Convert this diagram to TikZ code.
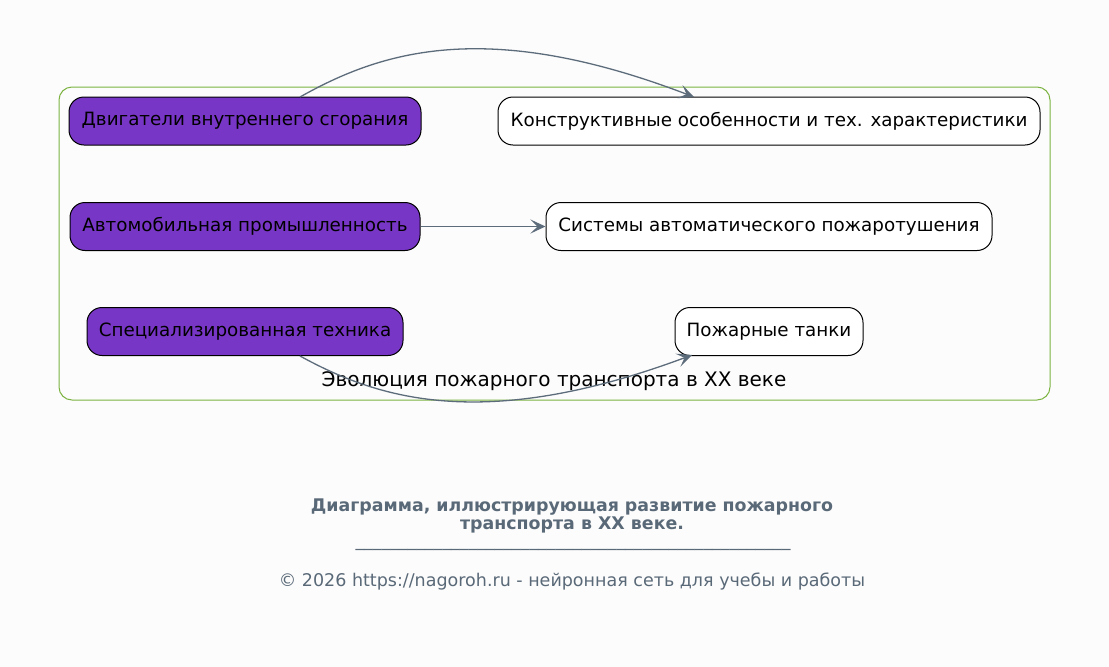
\documentclass[tikz,border=0pt]{standalone}
\usepackage{fontspec}
\setmainfont{DejaVu Sans}
\usetikzlibrary{arrows.meta}
\definecolor{bg}{HTML}{FCFCFC}
\definecolor{purp}{HTML}{7836C6}
\definecolor{edge}{HTML}{5D6C7B}
\definecolor{clus}{HTML}{7CB342}
\definecolor{foot}{HTML}{5A6978}
\tikzset{
  box/.style={draw=black, line width=1pt, rounded corners=15pt, minimum height=48pt, inner sep=0pt, font=\fontsize{18.3}{22}\selectfont, text=black},
  src/.style={box, fill=purp},
  dst/.style={box, fill=white},
  conn/.style={draw=edge, line width=1.3pt, -{Stealth[length=15pt,width=14pt,inset=7pt]}},
}
\begin{document}
\begin{tikzpicture}[x=1pt,y=-1pt]
\useasboundingbox[fill=bg] (0,0) rectangle (1109,667);
\node[draw=clus, line width=1pt, rounded corners=13pt, minimum width=991pt, minimum height=313pt, inner sep=0pt] (cl) at (554.5,243.5) {};
\node[font=\fontsize{20}{24}\selectfont] (cllab) at (554,381) {Эволюция пожарного транспорта в XX веке};
\node[src, minimum width=352pt] (a1) at (245,121) {Двигатели внутреннего сгорания};
\node[src, minimum width=350pt] (a2) at (245,226.5) {Автомобильная промышленность};
\node[src, minimum width=316pt] (a3) at (245,331.5) {Специализированная техника};
\node[dst, minimum width=542pt] (b1) at (769,121) {Конструктивные особенности и тех. характеристики};
\node[dst, minimum width=446pt] (b2) at (769,226.5) {Системы автоматического пожаротушения};
\node[dst, minimum width=188pt] (b3) at (769,331.5) {Пожарные танки};
\coordinate (a1s) at (300,97);
\coordinate (b1e) at (694,97);
\coordinate (a3s) at (300,356);
\coordinate (b3e) at (692,355);
\draw[conn] (a1s) .. controls (380,52) and (485,17) .. (b1e);
\draw[conn] (a2.east) -- (b2.west);
\draw[conn] (a3s) .. controls (375,397) and (480,434) .. (b3e);
\node[font=\fontsize{17.4}{18}\bfseries\selectfont, text=foot, align=center] (title) at (572,516) {Диаграмма, иллюстрирующая развитие пожарного\\транспорта в XX веке.};
\node[font=\fontsize{17.4}{18}\selectfont, text=foot, inner sep=0pt, text height=0pt, text depth=4pt, anchor=base] (rule) at (573,546) {\_\_\_\_\_\_\_\_\_\_\_\_\_\_\_\_\_\_\_\_\_\_\_\_\_\_\_\_\_\_\_\_\_\_\_\_\_\_\_\_\_\_\_\_\_\_\_\_\_\_};
\node[font=\fontsize{17.5}{18}\selectfont, text=foot] (copy) at (572,582) {© 2026 https://nagoroh.ru - нейронная сеть для учебы и работы};
\end{tikzpicture}
\end{document}
